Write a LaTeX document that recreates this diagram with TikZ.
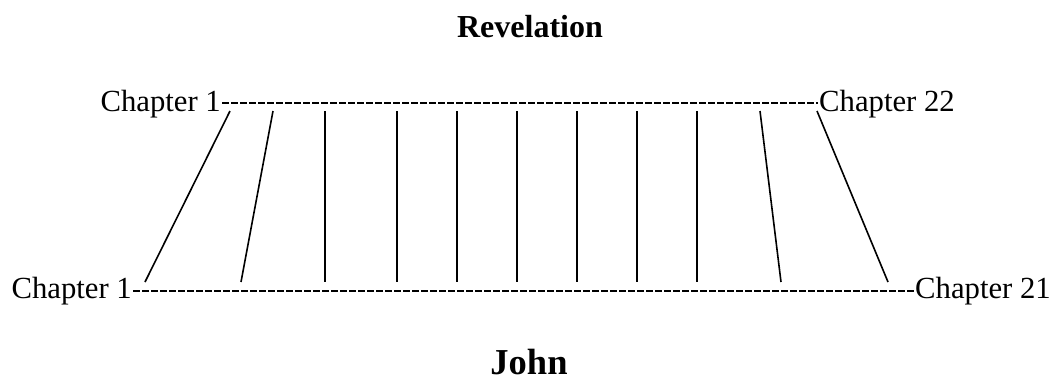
\documentclass[tikz,border=0pt]{standalone}
\usepackage{fontspec}
\setmainfont{Liberation Serif}
\usepackage{tikz}
\usetikzlibrary{positioning,calc}

\tikzset{
  chap/.style={inner sep=0pt, font=\fontsize{30.7}{36}\selectfont},
  book/.style={inner sep=0pt, font=\fontsize{32}{38}\selectfont\bfseries},
  rail/.style={line width=2.4pt, dash pattern=on 6.5pt off 2.5pt},
  link/.style={line width=1.6pt}
}

\begin{document}
\begin{tikzpicture}[x=1pt, y=-1pt]
  \useasboundingbox (0,0) rectangle (1057,381);

  % book titles
  \node[book, anchor=base] (rev) at (530,37) {Revelation};
  \node[book, anchor=base, font=\fontsize{36.5}{42}\selectfont\bfseries] (john) at (529,374) {John};

  % chapter ends of both books
  \node[chap, anchor=base east] (revA) at (221,111) {Chapter 1};
  \node[chap, anchor=base west] (revB) at (819,111) {Chapter 22};
  \node[chap, anchor=base east] (johnA) at (132,298) {Chapter 1};
  \node[chap, anchor=base west] (johnB) at (915,298) {Chapter 21};

  \coordinate (revL) at (222,103);
  \coordinate (revR) at (818,103);
  \coordinate (johnL) at (133,291);
  \coordinate (johnR) at (914,291);
  \draw[rail] (revL) -- (revR);
  \draw[rail] (johnL) -- (johnR);

  % links between the chapters
  \foreach \i/\t/\b in {1/230/145, 2/273/241, 3/325/325, 4/397/397, 5/457/457, 6/517/517,
                        7/577/577, 8/637/637, 9/697/697, 10/760/781, 11/817/888}{
    \coordinate (t\i) at (\t,111);
    \coordinate (b\i) at (\b,282);
    \draw[link] (t\i) -- (b\i);
  }
\end{tikzpicture}
\end{document}
